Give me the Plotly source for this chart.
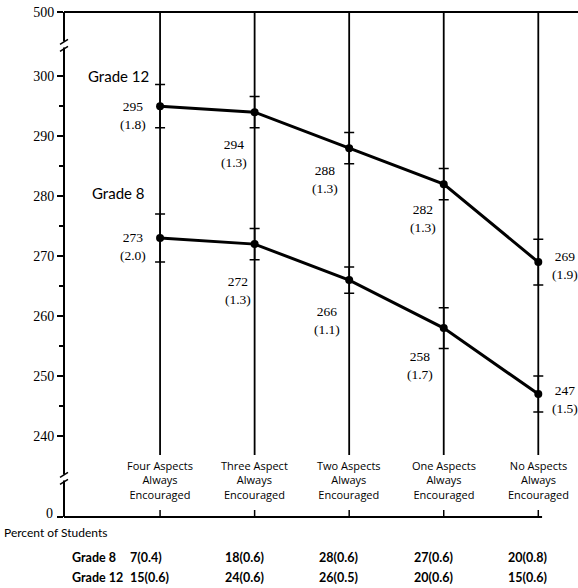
import plotly.graph_objects as go

# Average scores and standard errors by encouragement group
categories = [
    ["Four Aspects", "Always", "Encouraged"],
    ["Three Aspect", "Always", "Encouraged"],
    ["Two Aspects", "Always", "Encouraged"],
    ["One Aspects", "Always", "Encouraged"],
    ["No Aspects", "Always", "Encouraged"],
]
grade12_scores = [295, 294, 288, 282, 269]
grade12_se = [1.8, 1.3, 1.3, 1.3, 1.9]
grade8_scores = [273, 272, 266, 258, 247]
grade8_se = [2.0, 1.3, 1.1, 1.7, 1.5]

# Percent of students in each group (with standard errors)
grade8_pct = [7, 18, 28, 27, 20]
grade8_pct_se = [0.4, 0.6, 0.6, 0.6, 0.8]
grade12_pct = [15, 24, 26, 20, 15]
grade12_pct_se = [0.6, 0.6, 0.5, 0.6, 0.6]

# Axis ticks (the axis is broken above 300 and below 240)
major_ticks = [240, 250, 260, 270, 280, 290, 300]
minor_ticks = [245, 255, 265, 275, 285, 295]
break_tick_labels = ["0", "500"]

# ---- layout geometry -------------------------------------------------------
Y_RANGE = [226.5, 310.7]          # bottom edge stands for 0, top edge for 500
X_RANGE = [-1.016, 4.42]
UPPER_BREAK = 305.3
LOWER_BREAK = 233.1
GRID_BOTTOM = 0.123                # paper fraction where category lines stop
SERIF = "Liberation Serif"
SANS = "Lato"

# label offsets in pixels (dx, dy downward) next to each point
g12_label_shift = [(-27, 9), (-21, 41), (-24, 31), (-21, 34), (12, 3)]
g8_label_shift = [(-27, 8), (-17, 46), (-22, 40), (-24, 37), (12, 5)]

x = list(range(len(categories)))
fig = go.Figure()

for scores, se in [(grade12_scores, grade12_se), (grade8_scores, grade8_se)]:
    fig.add_trace(go.Scatter(
        x=x, y=scores, mode="lines+markers",
        line=dict(color="black", width=3),
        marker=dict(size=8, color="black"),
        error_y=dict(type="data", array=[2 * s for s in se], color="black",
                     thickness=1.5, width=5),
        showlegend=False, hoverinfo="skip", cliponaxis=False,
    ))

shapes = []
line_style = dict(color="black", width=2)

# category lines
for i in x:
    shapes.append(dict(type="line", xref="x", yref="paper", x0=i, x1=i,
                       y0=GRID_BOTTOM, y1=1, line=dict(color="black", width=1.8)))
    shapes.append(dict(type="line", xref="x", yref="paper", x0=i, x1=i,
                       ysizemode="pixel", yanchor=0, y0=0, y1=7,
                       line=dict(color="black", width=1.5)))

# top rule and baseline
shapes.append(dict(type="line", xref="paper", yref="paper", x0=0, x1=1,
                   y0=1, y1=1, line=line_style))
shapes.append(dict(type="line", xref="x", yref="paper", x0=X_RANGE[0], x1=x[-1] + 0.04,
                   y0=0, y1=0, line=line_style))

# broken y axis line
seg_gap = 0.5
for y0, y1 in [(Y_RANGE[0], LOWER_BREAK - seg_gap),
               (LOWER_BREAK + seg_gap, UPPER_BREAK - seg_gap),
               (UPPER_BREAK + seg_gap, Y_RANGE[1])]:
    shapes.append(dict(type="line", xref="paper", yref="y", x0=0, x1=0,
                       y0=y0, y1=y1, line=line_style))
for yb in [UPPER_BREAK, LOWER_BREAK]:
    for a, b in [(1, 6), (-6, -1)]:
        shapes.append(dict(type="line", xref="paper", yref="y",
                           xsizemode="pixel", xanchor=0, x0=-4, x1=4,
                           ysizemode="pixel", yanchor=yb, y0=a - 1, y1=b - 1,
                           line=dict(color="black", width=1.5)))

annotations = []

# value labels next to each point
for scores, se, shifts in [(grade12_scores, grade12_se, g12_label_shift),
                           (grade8_scores, grade8_se, g8_label_shift)]:
    for i, (v, s, (dx, dy)) in enumerate(zip(scores, se, shifts)):
        annotations.append(dict(
            x=i, y=v, xref="x", yref="y", text=f"{v}<br>({s})",
            showarrow=False, xanchor="left" if dx > 0 else "center",
            yanchor="middle", align="center", xshift=dx, yshift=-dy,
            font=dict(family=SERIF, size=13.5, color="black")))

# series names
for name, yv in [("Grade 12", 300), ("Grade 8", 280.5)]:
    annotations.append(dict(x=0, y=yv, xref="x", yref="y", text=name,
                            showarrow=False, xanchor="center", yanchor="middle",
                            xshift=-42, font=dict(family=SANS, size=15, color="black")))

# category labels
for i, lines in enumerate(categories):
    annotations.append(dict(x=i, y=0, xref="x", yref="paper", text="<br>".join(lines),
                            showarrow=False, xanchor="center", yanchor="middle",
                            align="center", yshift=37,
                            font=dict(family="Open Sans", size=11, color="black")))

# the "0" of the broken axis sits just above the baseline
annotations.append(dict(x=0, y=0, xref="paper", yref="paper", text=break_tick_labels[0],
                        showarrow=False, xanchor="right", yanchor="middle",
                        xshift=-9, yshift=4,
                        font=dict(family=SERIF, size=14, color="black")))

# percent-of-students table
annotations.append(dict(x=0, y=0, xref="paper", yref="paper", text="Percent of Students",
                        showarrow=False, xanchor="left", yanchor="middle",
                        xshift=-62, yshift=-15,
                        font=dict(family=SANS, size=12, color="black")))
for name, pct, pse, ys in [("Grade 8", grade8_pct, grade8_pct_se, -40),
                           ("Grade 12", grade12_pct, grade12_pct_se, -60)]:
    annotations.append(dict(x=0, y=0, xref="paper", yref="paper",
                            text=f"<b>{name}</b>", showarrow=False,
                            xanchor="left", yanchor="middle", xshift=6, yshift=ys,
                            font=dict(family=SANS, size=12.5, color="black")))
    for i, (p, e) in enumerate(zip(pct, pse)):
        annotations.append(dict(x=i, y=0, xref="x", yref="paper",
                                text=f"<b>{p}({e})</b>", showarrow=False,
                                xanchor="left", yanchor="middle",
                                xshift=-32, yshift=ys,
                                font=dict(family=SANS, size=12.5, color="black")))

fig.update_layout(
    width=578, height=588,
    margin=dict(l=64, r=0, t=12, b=71),
    paper_bgcolor="white", plot_bgcolor="white",
    shapes=shapes, annotations=annotations,
    xaxis=dict(range=X_RANGE, visible=False, fixedrange=True),
    yaxis=dict(
        range=Y_RANGE, showgrid=False, zeroline=False, showline=False,
        tickvals=[Y_RANGE[0]] + major_ticks + [Y_RANGE[1]],
        ticktext=[""] + [str(t) for t in major_ticks] + [break_tick_labels[1]],
        ticks="outside", ticklen=6, tickwidth=1.5, tickcolor="black",
        tickfont=dict(family=SERIF, size=14, color="black"),
        minor=dict(tickvals=minor_ticks, ticks="outside", ticklen=4,
                   tickwidth=1.5, tickcolor="black"),
        fixedrange=True,
    ),
)

fig.write_html("out.html", config={"displayModeBar": False})
